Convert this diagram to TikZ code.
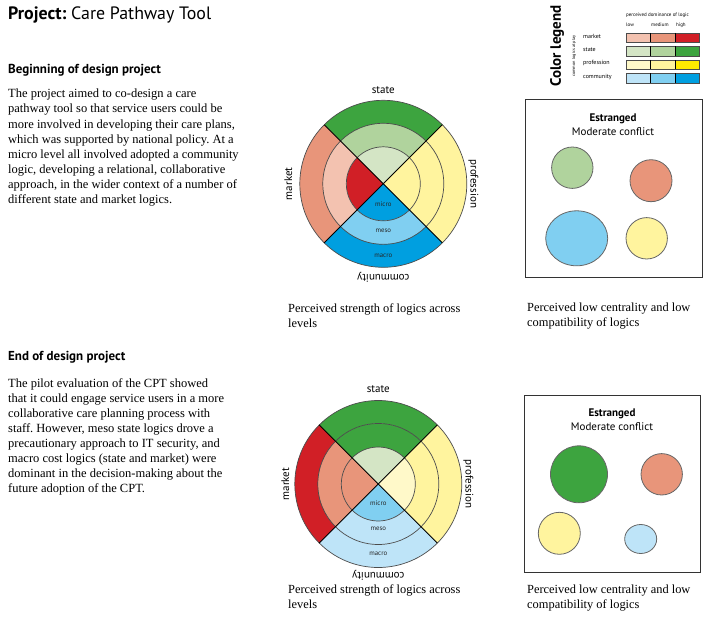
\documentclass[tikz,border=0pt]{standalone}
\usepackage{fontspec}
\setmainfont{Liberation Serif}
\setsansfont{PT Sans}
\frenchspacing

% colours: low / medium / high per logic
\definecolor{mkL}{HTML}{F3C2B0}
\definecolor{mkM}{HTML}{E8957A}
\definecolor{mkH}{HTML}{D11F26}
\definecolor{stL}{HTML}{D4E5C5}
\definecolor{stM}{HTML}{B0D39D}
\definecolor{stH}{HTML}{3DA43F}
\definecolor{prL}{HTML}{FFF9C9}
\definecolor{prM}{HTML}{FFF49E}
\definecolor{prH}{HTML}{FFEB00}
\definecolor{cmL}{HTML}{BEE4F8}
\definecolor{cmM}{HTML}{80CFF1}
\definecolor{cmH}{HTML}{009FE0}

\tikzset{
  body/.style={font=\fontsize{12.5}{15.1}\selectfont, align=left, anchor=north west, inner sep=0pt},
  caption/.style={font=\fontsize{12.4}{15}\selectfont, align=left, anchor=north west, inner sep=0pt},
  heading/.style={font=\sffamily\bfseries\fontsize{13}{14}\selectfont, anchor=west, inner sep=0pt},
  wlabel/.style={font=\sffamily\fontsize{11}{12}\selectfont, inner sep=0pt},
  lvl/.style={font=\sffamily\fontsize{6.8}{7}\selectfont, text=black!85, inner sep=0pt},
  ring/.style={draw=black!70, line width=0.7pt},
  spoke/.style={draw=black, line width=0.9pt},
  bubble/.style={draw=black!60, line width=0.8pt},
  frame/.style={draw=black!80, line width=1pt},
  lgd/.style={font=\sffamily\fontsize{6}{7}\selectfont, anchor=west, inner sep=0pt},
}

\begin{document}
\begin{tikzpicture}[x=1pt,y=-1pt]
\useasboundingbox (0,0) rectangle (715,623);

% title and text
\node[anchor=west, inner sep=0pt, font=\sffamily\fontsize{17.9}{20}\selectfont] (title) at (8,15)
  {\textbf{Project:} Care Pathway Tool};

\node[heading] (head1) at (8,70) {Beginning of design project};
\node[body] (text1) at (8,89) {The project aimed to co-design a care\\
pathway tool so that service users could be\\
more involved in developing their care plans,\\
which was supported by national policy. At a\\
micro level all involved adopted a community\\
logic, developing a relational, collaborative\\
approach, in the wider context of a number of\\
different state and market logics.};

\node[heading] (head2) at (8,357) {End of design project};
\node[body] (text2) at (8,378) {The pilot evaluation of the CPT showed\\
that it could engage service users in a more\\
collaborative care planning process with\\
staff. However, meso state logics drove a\\
precautionary approach to IT security, and\\
macro cost logics (state and market) were\\
dominant in the decision-making about the\\
future adoption of the CPT.};

% legend
\node[rotate=90, inner sep=0pt, font=\sffamily\bfseries\fontsize{15}{15}\selectfont] (lgdtitle) at (557,46) {Color legend};
\node[rotate=90, inner sep=0pt, font=\sffamily\fontsize{4.3}{5}\selectfont] (lgdsub) at (574,56) {common logics at play};
\node[lgd, font=\sffamily\fontsize{5}{6}\selectfont] (dom) at (626,15) {perceived dominance of logic};
\node[lgd, font=\sffamily\fontsize{5}{6}\selectfont] (low) at (626,25) {low};
\node[lgd, font=\sffamily\fontsize{5}{6}\selectfont] (med) at (651,25) {medium};
\node[lgd, font=\sffamily\fontsize{5}{6}\selectfont] (high) at (676,25) {high};
\foreach \c/\lab [count=\i] in {mk/market, st/state, pr/profession, cm/community} {
  \node[lgd] (lgd\c) at (583,22.6+13.5*\i) {\lab};
  \fill[\c L] (626,33+13.5*\i-13.5) rectangle ++(24.4,9.5);
  \fill[\c M] (650.4,33+13.5*\i-13.5) rectangle ++(24.4,9.5);
  \fill[\c H] (674.8,33+13.5*\i-13.5) rectangle ++(24.4,9.5);
  \draw[black!70, line width=0.6pt] (626,33+13.5*\i-13.5) rectangle ++(73.2,9.5);
  \draw[black, line width=0.6pt] (650.4,33+13.5*\i-13.5) -- ++(0,9.5) (674.8,33+13.5*\i-13.5) -- ++(0,9.5);
}

% wheel at beginning
\begin{scope}[shift={(383.3,183.8)}]
\foreach \a/\ci/\cm/\co in {270/stL/stM/stH, 0/prM/prM/prM, 90/cmH/cmM/cmH, 180/mkH/mkL/mkM} {
  \fill[\ci] (0,0) -- (\a-45:37) arc[start angle=\a-45, end angle=\a+45, radius=37] -- cycle;
  \fill[\cm] (\a-45:37) arc[start angle=\a-45, end angle=\a+45, radius=37]
    -- (\a+45:60.5) arc[start angle=\a+45, end angle=\a-45, radius=60.5] -- cycle;
  \fill[\co] (\a-45:60.5) arc[start angle=\a-45, end angle=\a+45, radius=60.5]
    -- (\a+45:83.5) arc[start angle=\a+45, end angle=\a-45, radius=83.5] -- cycle;
}
\draw[ring] (0,0) circle[radius=37] (0,0) circle[radius=60.5] (0,0) circle[radius=83.5];
\foreach \a in {45,135,225,315}
  \draw[spoke] (0,0) -- (\a:83.5);
\node[lvl] (micro1) at (0,20) {micro};
\node[lvl] (meso1) at (0,47) {meso};
\node[lvl] (macro1) at (0,72) {macro};
\node[wlabel] (state1) at (0,-94) {state};
\node[wlabel, rotate=-90] (prof1) at (90,0) {profession};
\node[wlabel, rotate=180] (comm1) at (0,93) {community};
\node[wlabel, rotate=90] (market1) at (-95,0) {market};
\end{scope}

% wheel at end
\begin{scope}[shift={(378.3,484)}]
\foreach \a/\ci/\cm/\co in {270/stL/stH/stH, 0/prL/prM/prM, 90/cmM/cmL/cmL, 180/mkM/mkM/mkH} {
  \fill[\ci] (0,0) -- (\a-45:37) arc[start angle=\a-45, end angle=\a+45, radius=37] -- cycle;
  \fill[\cm] (\a-45:37) arc[start angle=\a-45, end angle=\a+45, radius=37]
    -- (\a+45:60.5) arc[start angle=\a+45, end angle=\a-45, radius=60.5] -- cycle;
  \fill[\co] (\a-45:60.5) arc[start angle=\a-45, end angle=\a+45, radius=60.5]
    -- (\a+45:83.5) arc[start angle=\a+45, end angle=\a-45, radius=83.5] -- cycle;
}
\draw[ring] (0,0) circle[radius=37] (0,0) circle[radius=60.5] (0,0) circle[radius=83.5];
\foreach \a in {45,135,225,315}
  \draw[spoke] (0,0) -- (\a:83.5);
\node[lvl] (micro2) at (0,19) {micro};
\node[lvl] (meso2) at (0,45) {meso};
\node[lvl] (macro2) at (0,70) {macro};
\node[wlabel] (state2) at (0,-95) {state};
\node[wlabel, rotate=-90] (prof2) at (90,0) {profession};
\node[wlabel, rotate=180] (comm2) at (0,91) {community};
\node[wlabel, rotate=90] (market2) at (-93,0) {market};
\end{scope}

% captions
\node[caption] (cap1) at (288,304) {Perceived strength of logics across\\levels};
\node[caption] (cap2) at (527,303) {Perceived low centrality and low\\compatibility of logics};
\node[caption] (cap3) at (288,585) {Perceived strength of logics across\\levels};
\node[caption] (cap4) at (527,585) {Perceived low centrality and low\\compatibility of logics};

% boxes
\draw[frame] (525,100) rectangle (702,277);
\node[font=\sffamily\bfseries\fontsize{11}{12}\selectfont, inner sep=0pt] (est1) at (613,119) {Estranged};
\node[font=\sffamily\fontsize{11}{12}\selectfont, inner sep=0pt] (conf1) at (613,132) {Moderate conflict};
\draw[bubble, fill=stM] (572.3,167.7) circle[radius=20.7];
\draw[bubble, fill=mkM] (651,180.7) circle[radius=21];
\draw[bubble, fill=cmM] (576.7,238.3) circle[x radius=31, y radius=27.5];
\draw[bubble, fill=prM] (646.7,238.3) circle[radius=20.7];

\draw[frame] (524,395) rectangle (700,572);
\node[font=\sffamily\bfseries\fontsize{11}{12}\selectfont, inner sep=0pt] (est2) at (612,414) {Estranged};
\node[font=\sffamily\fontsize{11}{12}\selectfont, inner sep=0pt] (conf2) at (612,427) {Moderate conflict};
\draw[bubble, fill=stH] (579,474.3) circle[radius=28.5];
\draw[bubble, fill=mkM] (661.7,474.3) circle[radius=20.7];
\draw[bubble, fill=prM] (559.3,533.3) circle[radius=21];
\draw[bubble, fill=cmL] (640.7,539) circle[x radius=16, y radius=14.5];

\end{tikzpicture}
\end{document}
